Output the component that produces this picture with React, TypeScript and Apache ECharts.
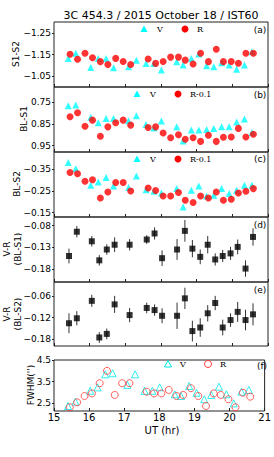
import React, { useEffect, useRef } from "react";
import * as echarts from "echarts";

// ---- data ----
const tV = [15.40, 15.61, 16.03, 16.24, 16.46, 16.67, 17.09, 17.31, 17.58, 17.80, 18.01, 18.44, 18.62, 18.85, 19.06, 19.28, 19.48, 19.70, 19.91, 20.12, 20.34, 20.55];
const tR = [15.45, 15.66, 15.87, 16.08, 16.30, 16.51, 16.73, 16.94, 17.15, 17.64, 17.85, 18.06, 18.27, 18.49, 18.68, 18.90, 19.11, 19.33, 19.55, 19.75, 19.97, 20.17, 20.38, 20.59];
const tVR = [15.42, 15.64, 16.06, 16.27, 16.48, 16.70, 17.12, 17.60, 17.82, 18.03, 18.45, 18.67, 18.88, 19.10, 19.31, 19.52, 19.73, 19.95, 20.15, 20.37, 20.58];

const s1s2V = [-1.132, -1.156, -1.090, -1.132, -1.132, -1.089, -1.093, -1.124, -1.109, -1.109, -1.078, -1.117, -1.101, -1.132, -1.152, -1.098, -1.093, -1.112, -1.101, -1.082, -1.101, -1.163];
const s1s2R = [-1.151, -1.128, -1.156, -1.135, -1.117, -1.104, -1.132, -1.118, -1.104, -1.129, -1.109, -1.118, -1.138, -1.138, -1.124, -1.106, -1.156, -1.117, -1.174, -1.117, -1.118, -1.110, -1.156, -1.156];

const bls1V = [0.766, 0.763, 0.820, 0.845, 0.825, 0.825, 0.836, 0.813, 0.853, 0.869, 0.837, 0.864, 0.929, 0.879, 0.879, 0.876, 0.871, 0.864, 0.864, 0.841, 0.828, 0.890];
const bls1R = [0.817, 0.799, 0.861, 0.833, 0.907, 0.864, 0.845, 0.833, 0.856, 0.867, 0.864, 0.892, 0.914, 0.900, 0.921, 0.914, 0.931, 0.903, 0.931, 0.912, 0.911, 0.871, 0.911, 0.898];

const bls2V = [-0.381, -0.353, -0.276, -0.291, -0.312, -0.273, -0.266, -0.319, -0.256, -0.249, -0.241, -0.261, -0.176, -0.253, -0.273, -0.227, -0.230, -0.261, -0.238, -0.253, -0.276, -0.276];
const bls2R = [-0.335, -0.330, -0.295, -0.302, -0.218, -0.245, -0.289, -0.289, -0.250, -0.264, -0.252, -0.227, -0.227, -0.243, -0.207, -0.197, -0.227, -0.218, -0.245, -0.207, -0.212, -0.241, -0.249, -0.261];

const vrS1 = [-0.150, -0.094, -0.116, -0.160, -0.135, -0.124, -0.124, -0.112, -0.098, -0.155, -0.135, -0.092, -0.133, -0.152, -0.124, -0.158, -0.150, -0.144, -0.129, -0.179, -0.106];
const vrS1Err = [0.017, 0.013, 0.012, 0.012, 0.012, 0.017, 0.013, 0.010, 0.014, 0.018, 0.024, 0.025, 0.020, 0.017, 0.020, 0.014, 0.014, 0.015, 0.017, 0.019, 0.020];

const vrS2 = [-0.136, -0.122, -0.073, -0.176, -0.166, -0.083, -0.113, -0.093, -0.099, -0.115, -0.115, -0.066, -0.158, -0.148, -0.108, -0.079, -0.148, -0.127, -0.104, -0.127, -0.111];
const vrS2Err = [0.028, 0.020, 0.017, 0.015, 0.015, 0.024, 0.020, 0.015, 0.016, 0.021, 0.037, 0.030, 0.029, 0.026, 0.023, 0.020, 0.022, 0.019, 0.028, 0.029, 0.031];

const fwhmV = [2.38, 2.58, 3.08, 3.24, 3.84, 3.89, 3.35, 3.84, 3.08, 3.08, 3.24, 2.92, 2.84, 3.30, 2.99, 2.69, 2.89, 3.27, 2.92, 2.50, 3.04, 3.12];
const fwhmR = [2.32, 2.55, 2.84, 2.96, 3.43, 4.00, 2.89, 3.43, 3.43, 3.04, 2.96, 2.96, 3.12, 2.84, 2.89, 3.20, 2.84, 2.38, 2.96, 2.89, 2.69, 2.32, 2.99, 2.81];

const xTicks = [15, 16, 17, 18, 19, 20, 21];
const yTicksA = [-1.25, -1.15, -1.05];
const yTicksB = [0.75, 0.85, 0.95];
const yTicksC = [-0.35, -0.25, -0.15];
const yTicksD = [-0.08, -0.13, -0.18];
const yTicksE = [-0.06, -0.12, -0.18];
const yTicksF = [2.5, 3.5, 4.5];

const title = "3C 454.3 / 2015 October 18 / IST60";

// ---- layout ----
const PL = 54;
const PW = 214;
const panels = [
  { top: 22, h: 65, min: -1.3, max: -1.0, inverse: true, ticks: yTicksA, dec: 2 },
  { top: 87, h: 65, min: 0.68, max: 0.98, inverse: true, ticks: yTicksB, dec: 2 },
  { top: 152, h: 65, min: -0.43, max: -0.13, inverse: true, ticks: yTicksC, dec: 2 },
  { top: 217, h: 65, min: -0.21, max: -0.06, inverse: false, ticks: yTicksD, dec: 2 },
  { top: 282, h: 64, min: -0.2, max: -0.02, inverse: false, ticks: yTicksE, dec: 2 },
  { top: 360, h: 51, min: 2.15, max: 4.5, inverse: false, ticks: yTicksF, dec: 1 },
];

const SANS = "DejaVu Sans";
const SERIF = "DejaVu Serif";
const CYAN = "#00ffff";
const RED = "#ff0000";

const fmt = (v: number, dec: number) => {
  const s = Math.abs(v).toFixed(dec);
  return v < 0 ? "\u2212" + s : s;
};

const zip = (a: number[], b: number[]) => a.map((x, i) => [x, b[i]]);

export default function App() {
  const ref = useRef<HTMLDivElement>(null);
  useEffect(() => {
    if (!ref.current) return;
    const chart = echarts.init(ref.current, null, { renderer: "svg" });

    const grid = panels.map((p) => ({
      left: PL,
      width: PW,
      top: p.top,
      height: p.h,
      show: true,
      borderColor: "#222",
      borderWidth: 1,
      backgroundColor: "transparent",
    }));

    const xAxis = panels.map((p, i) => ({
      type: "value",
      gridIndex: i,
      min: 15,
      max: 21,
      interval: 1,
      axisLine: { show: false },
      splitLine: { show: false },
      axisTick: { show: true, inside: true, length: 3, lineStyle: { color: "#222" }, customValues: xTicks },
      axisLabel: {
        show: i === panels.length - 1,
        customValues: xTicks,
        color: "#000",
        fontFamily: SANS,
        fontSize: 10,
        margin: 1,
      },
    }));

    const yAxis = panels.map((p, i) => ({
      type: "value",
      gridIndex: i,
      min: p.min,
      max: p.max,
      inverse: p.inverse,
      axisLine: { show: false },
      splitLine: { show: false },
      axisTick: { show: true, inside: false, length: 2, lineStyle: { color: "#222" }, customValues: p.ticks },
      axisLabel: {
        customValues: p.ticks,
        formatter: (v: number) => fmt(v, p.dec),
        color: "#000",
        fontFamily: SANS,
        fontSize: 9,
        margin: 3,
      },
    }));

    const errSeries = (idx: number, vals: number[], errs: number[]) => ({
      type: "custom",
      xAxisIndex: idx,
      yAxisIndex: idx,
      data: tVR.map((t, i) => [t, vals[i] - errs[i], vals[i] + errs[i]]),
      encode: { x: 0, y: [1, 2] },
      renderItem: (params: any, api: any) => {
        const a = api.coord([api.value(0), api.value(1)]);
        const b = api.coord([api.value(0), api.value(2)]);
        return {
          type: "line",
          shape: { x1: a[0], y1: a[1], x2: b[0], y2: b[1] },
          style: { stroke: "#333", lineWidth: 1 },
        };
      },
      z: 1,
    });

    const vScatter = (idx: number, vals: number[]) => ({
      type: "scatter",
      xAxisIndex: idx,
      yAxisIndex: idx,
      data: zip(tV, vals),
      symbol: "triangle",
      symbolSize: [7, 7],
      itemStyle: { color: CYAN },
      z: 2,
    });
    const rScatter = (idx: number, vals: number[]) => ({
      type: "scatter",
      xAxisIndex: idx,
      yAxisIndex: idx,
      data: zip(tR, vals),
      symbol: "circle",
      symbolSize: 7,
      itemStyle: { color: RED },
      z: 3,
    });
    const sqScatter = (idx: number, vals: number[]) => ({
      type: "scatter",
      xAxisIndex: idx,
      yAxisIndex: idx,
      data: zip(tVR, vals),
      symbol: "rect",
      symbolSize: 6,
      itemStyle: { color: "#000" },
      z: 4,
    });

    const series: any[] = [
      vScatter(0, s1s2V),
      rScatter(0, s1s2R),
      vScatter(1, bls1V),
      rScatter(1, bls1R),
      vScatter(2, bls2V),
      rScatter(2, bls2R),
      errSeries(3, vrS1, vrS1Err),
      sqScatter(3, vrS1),
      errSeries(4, vrS2, vrS2Err),
      sqScatter(4, vrS2),
      {
        type: "scatter",
        xAxisIndex: 5,
        yAxisIndex: 5,
        data: zip(tV, fwhmV),
        symbol: "triangle",
        symbolSize: 7,
        itemStyle: { color: "transparent", borderColor: "#00e8e8", borderWidth: 1 },
      },
      {
        type: "scatter",
        xAxisIndex: 5,
        yAxisIndex: 5,
        data: zip(tR, fwhmR),
        symbol: "circle",
        symbolSize: 7,
        itemStyle: { color: "transparent", borderColor: "#ff3a3a", borderWidth: 1 },
      },
    ];

    const txt = (x: number, y: number, text: string, opts: any = {}) => ({
      type: "text",
      x,
      y,
      rotation: opts.rotation || 0,
      silent: true,
      style: {
        text,
        align: opts.align || "center",
        verticalAlign: "middle",
        font: `${opts.weight || "normal"} ${opts.size || 9}px "${opts.family || SANS}"`,
        fill: opts.fill || "#000",
      },
    });
    const tri = (cx: number, cy: number, filled: boolean) => ({
      type: "polygon",
      silent: true,
      shape: { points: [[cx, cy - 3.5], [cx + 3.5, cy + 3], [cx - 3.5, cy + 3]] },
      style: filled ? { fill: CYAN } : { fill: "none", stroke: "#00e8e8", lineWidth: 1 },
    });
    const circ = (cx: number, cy: number, filled: boolean) => ({
      type: "circle",
      silent: true,
      shape: { cx, cy, r: 3.5 },
      style: filled ? { fill: RED } : { fill: "none", stroke: "#ff3a3a", lineWidth: 1 },
    });

    const R90 = Math.PI / 2;
    const graphic: any[] = [
      txt(161, 15, title, { size: 11 }),
      // y-axis names
      txt(16, 54, "S1-S2", { rotation: R90 }),
      txt(24, 119, "BL-S1", { rotation: R90 }),
      txt(17, 184, "BL-S2", { rotation: R90 }),
      txt(7, 249, "V-R", { rotation: R90 }),
      txt(17.5, 249, "(BL-S1)", { rotation: R90 }),
      txt(7, 314, "V-R", { rotation: R90 }),
      txt(17.5, 314, "(BL-S2)", { rotation: R90 }),
      txt(31, 385, "FWHM('')", { rotation: R90 }),
      txt(162, 430, "UT (hr)", { size: 10 }),
      // panel letters
      txt(260, 30, "(a)"),
      txt(260, 95, "(b)"),
      txt(260, 159, "(c)"),
      txt(260, 225, "(d)"),
      txt(260, 290, "(e)"),
      txt(262, 366, "(f)"),
      // legends
      tri(144, 29, true),
      txt(157, 29, "V", { align: "left", family: SERIF, size: 8 }),
      circ(185, 29, true),
      txt(197, 29, "R", { align: "left", family: SERIF, size: 8 }),
      tri(137, 94, true),
      txt(150, 94, "V", { align: "left", family: SERIF, size: 8 }),
      circ(178, 94, true),
      txt(190, 94, "R-0.1", { align: "left", family: SERIF, size: 8 }),
      tri(137, 159, true),
      txt(150, 159, "V", { align: "left", family: SERIF, size: 8 }),
      circ(178, 159, true),
      txt(190, 159, "R-0.1", { align: "left", family: SERIF, size: 8 }),
      tri(168, 364, false),
      txt(180, 364, "V", { align: "left", family: SERIF, size: 8 }),
      circ(208, 364, false),
      txt(220, 364, "R", { align: "left", family: SERIF, size: 8 }),
    ];

    chart.setOption({
      animation: false,
      backgroundColor: "#fff",
      grid,
      xAxis,
      yAxis,
      series,
      graphic,
    } as any);

    return () => chart.dispose();
  }, []);

  return (
    <div
      ref={ref}
      style={{ position: "fixed", left: 0, top: 0, width: 274, height: 457 }}
    />
  );
}
